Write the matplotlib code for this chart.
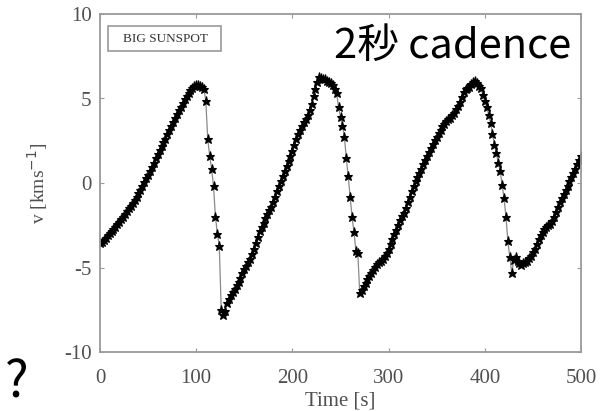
import numpy as np
import matplotlib
matplotlib.use("Agg")
import matplotlib.pyplot as plt
from matplotlib.patches import Rectangle

# velocity samples, 2 s cadence, t = 0 ... 500 s (one row = 20 s)
cadence = 2
v_kms = [
    -3.55, -3.50, -3.38, -3.25, -3.10, -2.96, -2.85, -2.72, -2.58, -2.44,
    -2.30, -2.15, -2.00, -1.85, -1.68, -1.50, -1.35, -1.18, -1.00, -0.82,
    -0.62, -0.40, -0.18, 0.05, 0.28, 0.50, 0.72, 0.96, 1.20, 1.45,
    1.70, 1.95, 2.18, 2.40, 2.62, 2.90, 3.12, 3.35, 3.60, 3.85,
    4.08, 4.30, 4.52, 4.75, 4.95, 5.15, 5.35, 5.50, 5.62, 5.72,
    5.78, 5.80, 5.75, 5.70, 5.55, 4.85, 2.60, 1.60, 0.85, -0.20,
    -2.00, -3.00, -3.70, -7.50, -7.80, -7.55, -7.10, -6.85, -6.65, -6.45,
    -6.25, -6.05, -5.85, -5.60, -5.35, -5.10, -4.90, -4.70, -4.50, -4.20,
    -3.90, -3.55, -3.20, -2.85, -2.60, -2.35, -2.10, -1.85, -1.60, -1.40,
    -1.15, -0.85, -0.50, -0.20, 0.10, 0.40, 0.70, 1.00, 1.30, 1.58,
    1.90, 2.25, 2.60, 2.92, 3.15, 3.40, 3.60, 3.80, 4.00, 4.30,
    4.70, 5.15, 5.55, 5.95, 6.25, 6.20, 6.15, 6.15, 6.05, 6.00,
    5.90, 5.80, 5.55, 5.30, 4.50, 3.90, 3.40, 2.75, 1.50, 0.40,
    -0.80, -2.00, -2.90, -4.00, -4.15, -6.50, -6.35, -6.10, -5.90, -5.70,
    -5.50, -5.30, -5.15, -4.95, -4.80, -4.70, -4.60, -4.50, -4.30, -4.15,
    -3.90, -3.60, -3.30, -3.00, -2.80, -2.50, -2.20, -1.95, -1.75, -1.45,
    -1.10, -0.80, -0.45, -0.20, 0.10, 0.35, 0.60, 0.85, 1.15, 1.38,
    1.60, 1.85, 2.05, 2.30, 2.55, 2.75, 2.95, 3.15, 3.35, 3.50,
    3.65, 3.78, 3.85, 4.00, 4.15, 4.35, 4.55, 4.80, 5.10, 5.40,
    5.55, 5.65, 5.70, 5.85, 6.00, 6.05, 5.90, 5.75, 5.60, 5.20,
    4.85, 4.50, 4.05, 3.55, 2.90, 2.25, 1.75, 1.20, 0.70, -0.10,
    -0.90, -2.00, -3.45, -4.40, -5.35, -4.55, -4.35, -4.60, -4.75, -4.85,
    -4.75, -4.70, -4.60, -4.45, -4.30, -4.10, -3.90, -3.60, -3.30, -3.05,
    -2.90, -2.75, -2.60, -2.50, -2.45, -2.25, -2.00, -1.70, -1.40, -1.15,
    -0.90, -0.65, -0.40, -0.15, 0.10, 0.35, 0.60, 0.85, 1.10, 1.35,
    1.60,
]
t_sec = np.arange(len(v_kms)) * cadence

xticks = [0, 100, 200, 300, 400, 500]
yticks = [-10, -5, 0, 5, 10]
legend_label = "BIG SUNSPOT"
note = "2秒 cadence"

plt.rcParams["axes.unicode_minus"] = False
serif = "Liberation Serif"
axcol = "#9a9a9a"
txtcol = "#505050"

fig = plt.figure(figsize=(6.12, 4.11), dpi=100)
ax = fig.add_axes([100 / 612, 59 / 411, 481 / 612, 338 / 411])

ax.plot(t_sec, v_kms, color="#8a8a8a", lw=0.9, marker="*", ms=6.5,
        mfc="black", mec="black", mew=0.8)

ax.set_xlim(0, 500)
ax.set_ylim(-10, 10)
ax.set_xticks(xticks)
ax.set_yticks(yticks)
ax.tick_params(direction="in", length=3, width=0.8, color=axcol,
               top=True, right=True, labelsize=15, labelcolor=txtcol)
ax.tick_params(axis="x", pad=12)
ax.tick_params(axis="y", pad=6)
for lab in ax.get_xticklabels() + ax.get_yticklabels():
    lab.set_family(serif)
for s in ax.spines.values():
    s.set_color(axcol)
    s.set_linewidth(1.3)

ax.set_xlabel("Time [s]", family=serif, fontsize=15, color=txtcol)
ax.set_ylabel("v [kms$^{-1}$]", family=serif, fontsize=14, color=txtcol)
ax.xaxis.set_label_coords(0.5, -0.118)
ax.yaxis.set_label_coords(-0.104, 0.5)

# legend box top left
ax.add_patch(Rectangle((0.017, 0.890), 0.235, 0.074, transform=ax.transAxes,
                       fc="white", ec=axcol, lw=1.2, zorder=3))
ax.text(0.048, 0.927, legend_label, transform=ax.transAxes, family=serif,
        fontsize=9.5, color="#333333", va="center", ha="left", zorder=4)

cjk = ["Noto Sans CJK JP", "DejaVu Sans"]
fig.text(334 / 612, 1 - 58 / 411, note, family=cjk, fontsize=30,
         ha="left", va="baseline", color="black")
fig.text(5 / 612, 1 - 397 / 411, "?", family=cjk, fontsize=36,
         ha="left", va="baseline", color="black")

fig.savefig("out.png", dpi=100)
